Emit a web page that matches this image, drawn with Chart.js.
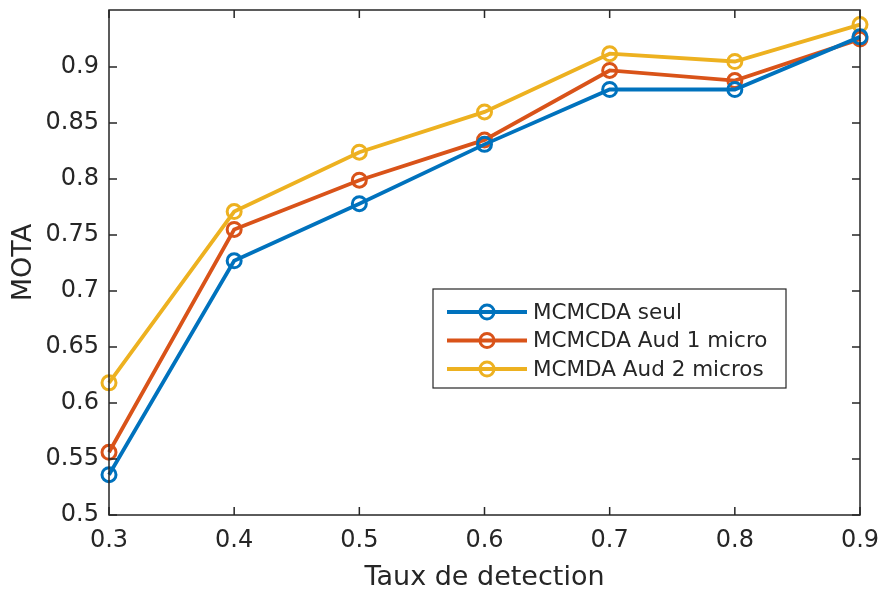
<!DOCTYPE html>
<html>
<head>
<meta charset="utf-8">
<script src="https://cdn.jsdelivr.net/npm/chart.js@4/dist/chart.umd.min.js"></script>
<style>
html,body{margin:0;padding:0;background:#fff;}
#wrap{width:880px;height:590px;position:relative;}
</style>
</head>
<body>
<div id="wrap"><canvas id="c" width="880" height="590"></canvas></div>
<script>
const xValues = [0.3, 0.4, 0.5, 0.6, 0.7, 0.8, 0.9];
const seriesLabels = ['MCMCDA seul', 'MCMCDA Aud 1 micro', 'MCMDA Aud 2 micros'];
const seul = [0.536, 0.727, 0.778, 0.831, 0.880, 0.880, 0.927];
const aud1 = [0.556, 0.755, 0.799, 0.835, 0.897, 0.888, 0.925];
const aud2 = [0.618, 0.771, 0.824, 0.860, 0.912, 0.905, 0.938];
const xTicks = [0.3, 0.4, 0.5, 0.6, 0.7, 0.8, 0.9];
const yTicks = [0.5, 0.55, 0.6, 0.65, 0.7, 0.75, 0.8, 0.85, 0.9];
const colors = ['#0072BD', '#D95319', '#EDB120'];

const FONT = "'DejaVu Sans', sans-serif";
const TXT = '#262626';

function mk(label, vals, color) {
  return {
    label: label,
    data: xValues.map((x, i) => ({x: x, y: vals[i]})),
    borderColor: color,
    backgroundColor: 'rgba(0,0,0,0)',
    borderWidth: 3.8,
    pointRadius: 7,
    pointBorderWidth: 3,
    pointBackgroundColor: 'rgba(0,0,0,0)',
    pointBorderColor: color,
    tension: 0
  };
}

const boxPlugin = {
  id: 'boxPlugin',
  afterDatasetsDraw(chart) {
    const ctx = chart.ctx;
    const a = chart.chartArea;
    const xs = chart.scales.x, ys = chart.scales.y;
    ctx.save();
    ctx.strokeStyle = TXT;
    ctx.lineWidth = 1.5;
    ctx.strokeRect(a.left, a.top, a.right - a.left, a.bottom - a.top);
    const L = 8;
    ctx.beginPath();
    xTicks.forEach(v => {
      const p = xs.getPixelForValue(v);
      ctx.moveTo(p, a.bottom); ctx.lineTo(p, a.bottom - L);
      ctx.moveTo(p, a.top); ctx.lineTo(p, a.top + L);
    });
    yTicks.forEach(v => {
      const p = ys.getPixelForValue(v);
      ctx.moveTo(a.left, p); ctx.lineTo(a.left + L, p);
      ctx.moveTo(a.right, p); ctx.lineTo(a.right - L, p);
    });
    ctx.stroke();

    // legend box
    const lx = 433, ly = 289, lw = 353, lh = 99;
    ctx.fillStyle = '#fff';
    ctx.fillRect(lx, ly, lw, lh);
    ctx.strokeStyle = TXT;
    ctx.lineWidth = 1.2;
    ctx.strokeRect(lx, ly, lw, lh);
    chart.data.datasets.forEach((ds, i) => {
      const cy = ly + 23 + i * 28.5;
      ctx.strokeStyle = ds.borderColor;
      ctx.lineWidth = 3.8;
      ctx.beginPath();
      ctx.moveTo(lx + 14, cy); ctx.lineTo(lx + 94, cy);
      ctx.stroke();
      ctx.lineWidth = 3;
      ctx.beginPath();
      ctx.arc(lx + 54, cy, 7, 0, Math.PI * 2);
      ctx.stroke();
      ctx.fillStyle = TXT;
      ctx.font = '21.5px ' + FONT;
      ctx.textBaseline = 'middle';
      ctx.textAlign = 'left';
      ctx.fillText(ds.label, lx + 100, cy + 1);
    });
    ctx.restore();
  }
};

new Chart(document.getElementById('c'), {
  type: 'line',
  data: {
    datasets: [mk(seriesLabels[0], seul, colors[0]), mk(seriesLabels[1], aud1, colors[1]), mk(seriesLabels[2], aud2, colors[2])]
  },
  options: {
    responsive: false,
    animation: false,
    clip: false,
    layout: {padding: {top: 9.5, right: 20, left: 0, bottom: 0}},
    plugins: {legend: {display: false}, tooltip: {enabled: false}},
    scales: {
      x: {
        type: 'linear',
        min: 0.3, max: 0.9,
        afterBuildTicks(s) { s.ticks = xTicks.map(v => ({value: v})); },
        afterFit(s) { s.height = 75; s.paddingLeft = 0; s.paddingRight = 0; },
        grid: {display: false, drawTicks: false},
        border: {display: false},
        ticks: {
          color: TXT, font: {family: FONT, size: 24}, padding: 11,
          maxRotation: 0, autoSkip: false,
          callback: v => String(Math.round(v * 10) / 10)
        },
        title: {display: true, text: 'Taux de detection', color: TXT,
          font: {family: FONT, size: 27}, padding: {top: 0, bottom: -4}}
      },
      y: {
        type: 'linear',
        min: 0.5, max: 0.951,
        afterBuildTicks(s) { s.ticks = yTicks.map(v => ({value: v})); },
        afterFit(s) { s.width = 109; s.paddingTop = 0; s.paddingBottom = 0; },
        grid: {display: false, drawTicks: false},
        border: {display: false},
        ticks: {
          color: TXT, font: {family: FONT, size: 24}, padding: 10,
          autoSkip: false,
          callback: v => String(Math.round(v * 100) / 100)
        },
        title: {display: true, text: 'MOTA', color: TXT,
          font: {family: FONT, size: 27}, padding: {top: 8, bottom: 0}}
      }
    }
  },
  plugins: [boxPlugin]
});
</script>
</body>
</html>
